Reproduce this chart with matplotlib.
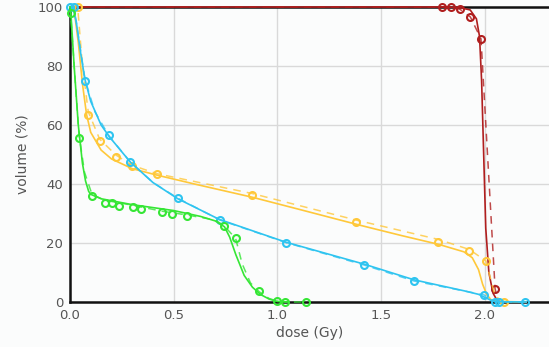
import matplotlib
matplotlib.use("Agg")
import matplotlib.pyplot as plt

# ---- data ----
red_fit_x = [0.0, 1.80, 1.88, 1.93, 1.96, 1.975, 1.985, 1.995, 2.005, 2.02, 2.04, 2.06, 2.08]
red_fit_y = [100, 100, 99.8, 99, 96, 90, 75, 50, 25, 10, 3, 0.5, 0]
red_dash_x = [0.0, 1.796, 1.836, 1.881, 1.931, 1.982, 2.05, 2.065]
red_dash_y = [100, 100, 100, 99.2, 96.6, 89.2, 4.5, 0]
red_pts_x = [1.796, 1.836, 1.881, 1.931, 1.982, 2.05]
red_pts_y = [100, 100, 99.2, 96.6, 89.2, 4.5]

yel_fit_x = [0.0, 0.02, 0.04, 0.06, 0.08, 0.10, 0.15, 0.20, 0.30, 0.42, 0.60, 0.88, 1.10, 1.40, 1.60, 1.78, 1.90, 1.94, 1.97, 1.99, 2.01, 2.03, 2.06, 2.20]
yel_fit_y = [100, 99, 88, 74, 63.5, 57.5, 51.5, 48.5, 45.2, 43, 40, 35.5, 31.5, 26, 22.5, 19.5, 17, 15, 11, 6, 2.5, 0.8, 0.2, 0]
yel_dash_x = [0.0, 0.037, 0.06, 0.088, 0.143, 0.222, 0.297, 0.419, 0.877, 1.378, 1.777, 1.926, 2.006, 2.05, 2.093]
yel_dash_y = [100, 100, 80, 64.5, 55.2, 49.8, 46.4, 43.5, 36.8, 27.8, 21.2, 17.8, 13.9, 2, 0]
yel_pts_x = [0.037, 0.088, 0.143, 0.222, 0.297, 0.419, 0.877, 1.378, 1.777, 1.926, 2.006, 2.093]
yel_pts_y = [100, 63.4, 54.7, 49.3, 46.1, 43.3, 36.3, 27.0, 20.4, 17.2, 13.9, 0]

blu_fit_x = [0.0, 0.015, 0.03, 0.05, 0.072, 0.10, 0.15, 0.19, 0.29, 0.40, 0.52, 0.72, 1.04, 1.42, 1.66, 1.90, 1.97, 2.0, 2.03, 2.06, 2.20]
blu_fit_y = [100, 99.5, 95, 85, 75.5, 68, 60, 56, 47.5, 40.5, 35, 28, 20.3, 12.8, 7.5, 3.8, 2.6, 1.6, 0.6, 0.1, 0]
blu_dash_x = [0.0, 0.019, 0.05, 0.072, 0.12, 0.188, 0.289, 0.40, 0.522, 0.723, 1.044, 1.42, 1.66, 1.997, 2.048, 2.193]
blu_dash_y = [100, 100, 86, 75.5, 64.5, 56.3, 47.6, 40.5, 35.1, 27.8, 20.1, 12.5, 7.1, 2.4, 0, 0]
blu_pts_x = [0.0, 0.019, 0.072, 0.188, 0.289, 0.522, 0.723, 1.044, 1.42, 1.66, 1.997, 2.048, 2.069, 2.193]
blu_pts_y = [100, 100, 74.9, 56.6, 47.6, 35.1, 27.8, 20.1, 12.5, 7.1, 2.4, 0, 0, 0]

grn_fit_x = [0.0, 0.005, 0.02, 0.04, 0.06, 0.075, 0.09, 0.10, 0.15, 0.30, 0.50, 0.63, 0.70, 0.745, 0.77, 0.80, 0.84, 0.88, 0.92, 0.96, 1.0, 1.05]
grn_fit_y = [100, 97, 80, 60, 47, 41, 37.5, 36.5, 35, 33, 31, 29, 27.5, 25.5, 22, 16, 9, 5, 2.5, 1, 0.2, 0]
grn_dash_x = [0.0, 0.003, 0.025, 0.043, 0.07, 0.106, 0.167, 0.302, 0.442, 0.564, 0.70, 0.744, 0.799, 0.83, 0.87, 0.912, 0.96, 0.999, 1.036, 1.14]
grn_dash_y = [100, 97.9, 75, 57, 44, 36.5, 34.5, 32.8, 30.8, 29.5, 27.8, 25.8, 21.5, 13, 6.5, 3.5, 1.2, 0.3, 0, 0]
grn_pts_x = [0.003, 0.043, 0.106, 0.167, 0.204, 0.238, 0.302, 0.344, 0.442, 0.49, 0.564, 0.744, 0.799, 0.912, 0.999, 1.036, 1.14]
grn_pts_y = [97.9, 55.7, 35.9, 33.7, 33.4, 32.6, 32.3, 31.4, 30.6, 29.7, 29.2, 25.8, 21.8, 3.7, 0.3, 0, 0]

x_ticks = [0.0, 0.5, 1.0, 1.5, 2.0]
x_tick_labels = ["0.0", "0.5", "1.0", "1.5", "2.0"]
y_ticks = [0, 20, 40, 60, 80, 100]

# ---- figure ----
fig = plt.figure(figsize=(5.49, 3.47), dpi=100, facecolor="#fbfcfc")
ax = fig.add_axes([70/549, 45/347, 479/549, 295/347])
ax.set_facecolor("#fbfcfc")

series = [
    ("#b01e1e", red_fit_x, red_fit_y, red_dash_x, red_dash_y, red_pts_x, red_pts_y),
    ("#ffc83a", yel_fit_x, yel_fit_y, yel_dash_x, yel_dash_y, yel_pts_x, yel_pts_y),
    ("#2ec4f0", blu_fit_x, blu_fit_y, blu_dash_x, blu_dash_y, blu_pts_x, blu_pts_y),
    ("#35e635", grn_fit_x, grn_fit_y, grn_dash_x, grn_dash_y, grn_pts_x, grn_pts_y),
]
for i, (c, fx, fy, dx, dy, px, py) in enumerate(series):
    z = 3 + i
    ax.plot(fx, fy, color=c, lw=1.2, zorder=z, clip_on=False)
    ax.plot(dx, dy, color=c, lw=1.1, ls=(0, (5, 4)), alpha=0.8, zorder=z, clip_on=False)
    ax.plot(px, py, ls="none", marker="o", ms=5, mfc="none", mec=c, mew=1.5, zorder=z + 0.5, clip_on=False)

ax.set_xlim(0, 2.31)
ax.set_ylim(0, 100)
ax.set_xticks(x_ticks)
ax.set_xticklabels(x_tick_labels)
ax.set_yticks(y_ticks)
ax.grid(True, color="#d9d9d9", lw=1.0, zorder=0)
ax.set_axisbelow(True)

for s in ["left", "bottom", "top"]:
    ax.spines[s].set_color("#111111")
    ax.spines[s].set_linewidth(1.8)
    ax.spines[s].set_zorder(2)
ax.spines["right"].set_visible(False)

ax.tick_params(axis="both", length=0, labelsize=9.5, colors="#555555", pad=5)
ax.set_xlabel("dose (Gy)", fontsize=10, color="#555555", labelpad=3)
ax.set_ylabel("volume (%)", fontsize=10, color="#555555", labelpad=6)

fig.savefig("out.png", dpi=100, facecolor=fig.get_facecolor())
